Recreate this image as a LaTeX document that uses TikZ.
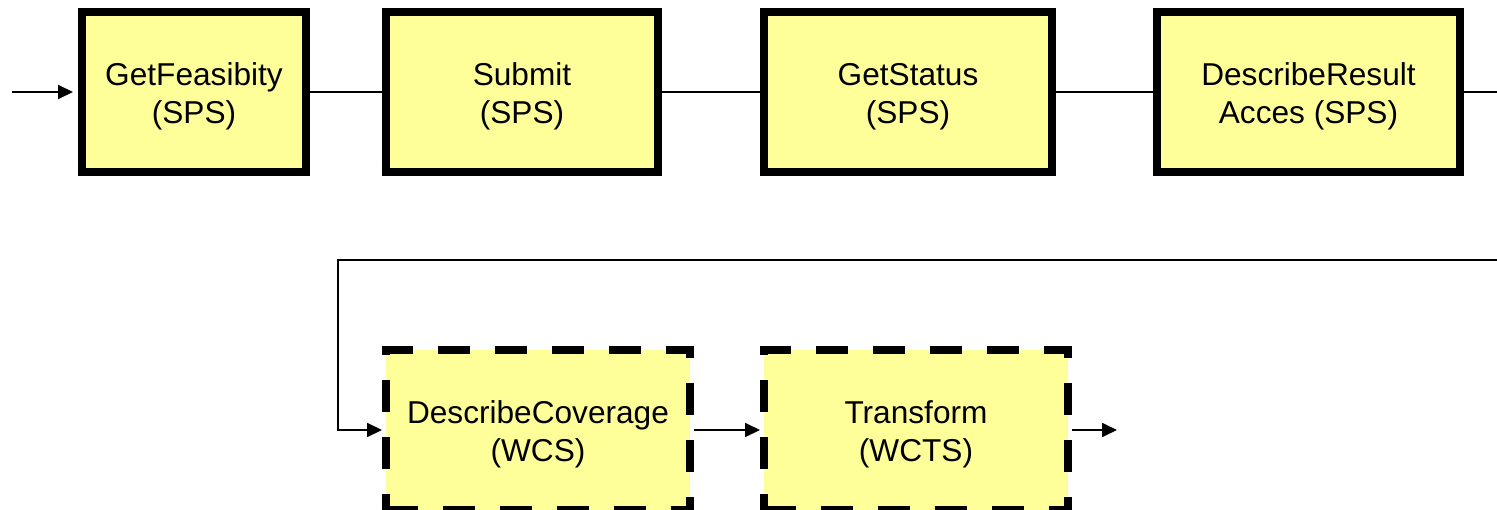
\documentclass[tikz,border=0pt]{standalone}
\usepackage{fontspec}
\setmainfont{Liberation Sans}
\usetikzlibrary{arrows.meta}
\definecolor{boxyellow}{HTML}{FFFF99}
\tikzset{%
  opbox/.style   = {shape=rectangle, draw, fill=boxyellow,%
                    line width=0.16cm, align=center, inner sep=0pt,%
                    minimum height=3.2cm, text height=1.27cm, text depth=0pt,%
                    font=\fontsize{18}{21.9}\selectfont},%
  spsbox/.style  = {opbox},%
  wcsbox/.style  = {opbox, dash pattern=on 0.64cm off 0.5cm},%
  flow/.style    = {line width=0.035cm},%
  flowarr/.style = {flow, -{Triangle[length=0.3cm,width=0.28cm]}}%
}
\begin{document}
\begin{tikzpicture}[x=0.02cm,y=-0.02cm]
	\useasboundingbox (0,0) rectangle (1497,510);
	% top row
	\node [spsbox, minimum width=4.48cm] (feas) at (194,92) {GetFeasibity\\(SPS)};
	\node [spsbox, minimum width=5.44cm] (submit) at (522,92) {Submit\\(SPS)};
	\node [spsbox, minimum width=5.76cm] (status) at (908,92) {GetStatus\\(SPS)};
	\node [spsbox, minimum width=6.06cm] (result) at (1308.5,92) {DescribeResult\\Acces (SPS)};
	% bottom row
	\node [wcsbox, minimum width=6.08cm] (coverage) at (538,430) {DescribeCoverage\\(WCS)};
	\node [wcsbox, minimum width=6.08cm] (transform) at (916,430) {Transform\\(WCTS)};
	\coordinate (start) at (12,92);
	\coordinate (loopout) at (1497,92);
	\coordinate (loopin) at (1497,260);
	\coordinate (loopcorner) at (338,260);
	\coordinate (end) at (1117,430);
	\draw [flowarr, shorten >=0.1cm] (start) -- (feas.west);
	\draw [flow] (feas) -- (submit);
	\draw [flow] (submit) -- (status);
	\draw [flow] (status) -- (result);
	\draw [flow] (result.east) -- (loopout);
	\draw [flowarr] (loopin) -- (loopcorner) |- (coverage.west);
	\draw [flowarr] (coverage) -- (transform);
	\draw [flowarr] (transform.east) -- (end);
\end{tikzpicture}
\end{document}
